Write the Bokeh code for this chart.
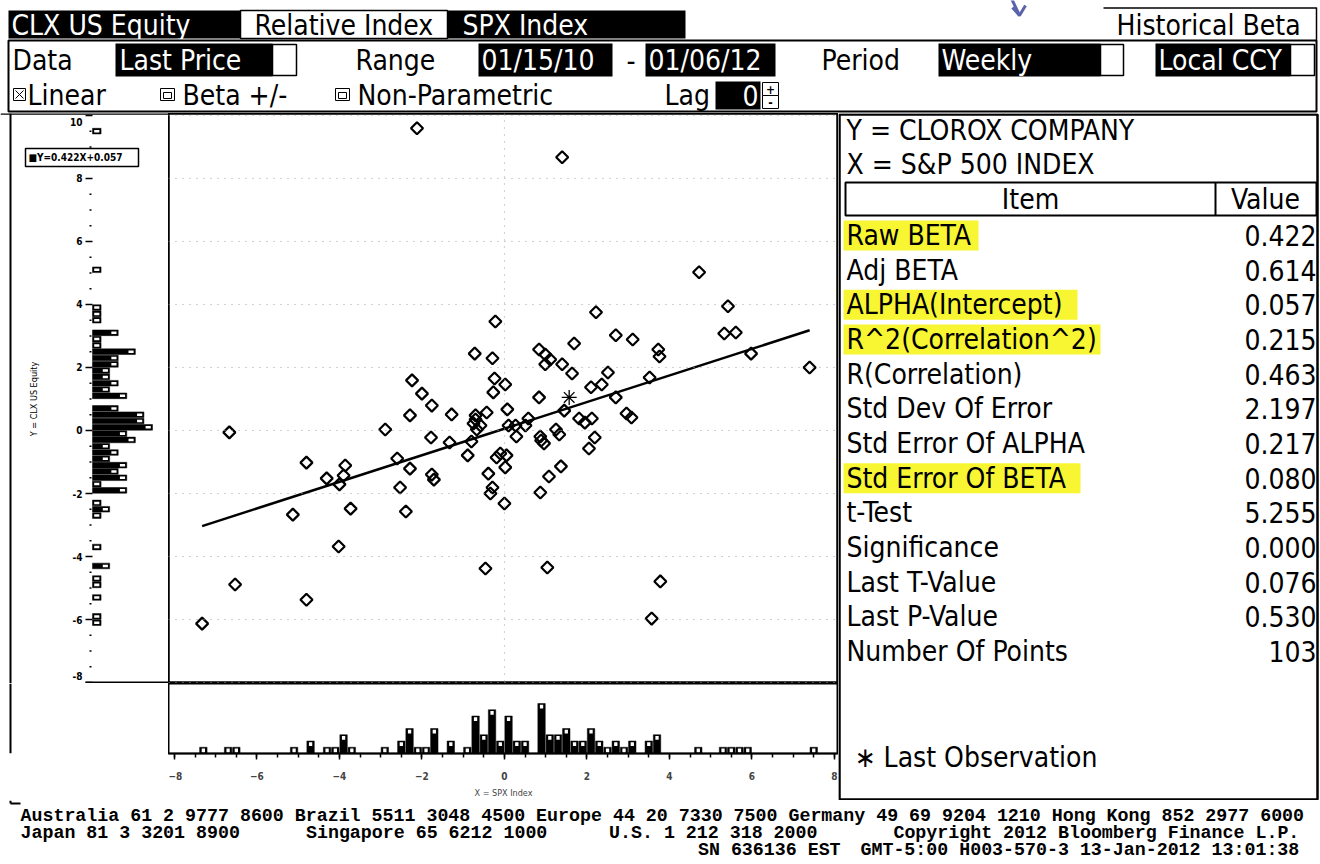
import numpy as np
from bokeh.plotting import figure
from bokeh.layouts import row, column
from bokeh.models import Range1d, FixedTicker, Span
from bokeh.core.properties import value
from bokeh.embed import file_html
from bokeh.resources import INLINE

# ---------------- data ----------------
x_spx = [-2.12, 1.40, 4.72, 5.42, 5.33, 5.61, 5.98, 7.40, 2.22, 2.70,
         3.11, 3.73, 3.76, -0.22, -0.72, -0.29, -0.24, -0.27, 0.02, -2.24,
         -2.00, -1.76, 0.84, 0.99, 1.11, 0.99, 1.40, 1.69, 1.64, 2.51,
         2.10, 2.36, 3.52, 2.70, 0.84, 0.07, 1.45, 2.96, 3.08, 1.81,
         1.95, 2.12, 0.10, 0.27, 0.51, 0.58, 0.29, 0.87, 0.89, 0.96,
         1.25, 1.33, 2.19, 2.05, -2.29, -1.28, -0.70, -0.43, -0.75, -0.58,
         -0.67, -0.70, -6.67, -2.89, -1.78, -1.33, -0.80, -0.89, -0.19, -0.10,
         0.05, 0.02, -0.39, -0.29, -0.34, 0.00, -2.60, -4.80, -3.86, -2.29,
         -4.31, -3.90, -4.00, -1.76, -1.71, -2.53, -5.13, -3.73, -2.39, -4.02,
         -0.46, -6.53, -4.80, -7.33, 1.08, 1.37, 0.87, 1.04, 3.78, 3.57]
y_clx = [9.59, 8.67, 5.02, 3.94, 3.08, 3.11, 2.44, 2.00, 3.75, 3.02,
         2.89, 2.57, 2.35, 3.46, 2.44, 2.29, 1.65, 1.21, 1.46, 1.59,
         1.17, 0.79, 2.57, 2.41, 2.25, 2.10, 2.10, 2.76, 1.81, 1.84,
         1.37, 1.46, 1.68, 1.05, 1.05, 0.67, 0.63, 0.54, 0.41, 0.38,
         0.25, 0.38, 0.16, 0.16, 0.16, 0.38, -0.19, -0.19, -0.32, -0.41,
         0.03, -0.13, -0.22, -0.57, 0.48, 0.51, 0.48, 0.57, 0.22, 0.16,
         0.03, 0.35, -0.06, 0.03, -0.22, -0.38, -0.35, -0.79, -0.86, -0.73,
         -0.79, -1.17, -1.37, -1.81, -2.00, -2.32, -0.89, -1.02, -1.11, -1.21,
         -1.52, -1.43, -1.71, -1.40, -1.56, -1.81, -2.67, -2.48, -2.57, -3.68,
         -4.38, -4.89, -5.37, -6.13, -1.46, -1.14, -1.97, -4.35, -4.79, -5.97]
last_x = [1.57]
last_y = [1.05]
raw_beta = 0.422
alpha = 0.057

x_ticks = [-8, -6, -4, -2, 0, 2, 4, 6, 8]
y_ticks = [-8, -6, -4, -2, 0, 2, 4, 6, 8, 10]

stat_items = ["Raw BETA", "Adj BETA", "ALPHA(Intercept)", "R^2(Correlation^2)",
              "R(Correlation)", "Std Dev Of Error", "Std Error Of ALPHA",
              "Std Error Of BETA", "t-Test", "Significance", "Last T-Value",
              "Last P-Value", "Number Of Points"]
stat_values = ["0.422", "0.614", "0.057", "0.215", "0.463", "2.197", "0.217",
               "0.080", "5.255", "0.000", "0.076", "0.530", "103"]
highlight_items = ["Raw BETA", "ALPHA(Intercept)", "R^2(Correlation^2)", "Std Error Of BETA"]
highlight_widths = [135, 234, 257, 237]

# ---------------- helpers ----------------
FONT = "DejaVu Sans Condensed"
MONO = "Liberation Mono"
YELLOW = "#f8f633"
FS = "28px"


def panel(w, h, xr, yr, **kw):
    p = figure(width=w, height=h, x_range=Range1d(*xr), y_range=Range1d(*yr),
               output_backend="svg", toolbar_location=None, min_border=0,
               x_axis_location=None, y_axis_location=None, **kw)
    for g in p.grid:
        g.visible = False
    p.outline_line_color = None
    return p


def txt(p, x, y, t, size=FS, color="black", align="left", font=FONT, style="normal", angle=0):
    p.text(x=[x], y=[y], text=[t], text_font=value(font), text_font_size=size,
           text_color=color, text_align=align, text_baseline="middle",
           text_font_style=style, angle=angle)


def box(p, l, r, t, b, fill, line=None, lw=1.0):
    p.quad(left=[l], right=[r], top=[t], bottom=[b], fill_color=fill,
           line_color=line, line_width=lw)


# ---------------- header (page pixel coords) ----------------
hdr = panel(1320, 113, (0, 1320), (113, 0))
box(hdr, 8, 240, 10, 38, "black")
box(hdr, 240, 447, 10, 38, "white", "black", 1.5)
box(hdr, 447, 685, 10, 38, "black")
txt(hdr, 11, 25, "CLX US Equity", color="white")
txt(hdr, 254, 25, "Relative Index")
txt(hdr, 462, 25, "SPX Index", color="white")
hdr.line([1103, 1316], [7.5, 7.5], line_color="black", line_width=1.5)
hdr.line([1316, 1316], [7, 40], line_color="black", line_width=1.5)
txt(hdr, 1116, 25, "Historical Beta")
hdr.line([1011, 1019], [-2, 15], line_color="#5b63ad", line_width=3)
hdr.line([1012, 1019, 1025], [7, 15, 5], line_color="#5b63ad", line_width=3)

box(hdr, 8, 1316, 40, 111, None, "black", 2)
txt(hdr, 12, 60, "Data")
box(hdr, 115, 272, 43, 76, "black")
txt(hdr, 119, 60, "Last Price", color="white")
box(hdr, 272, 296, 44, 75, "white", "black", 1.5)
txt(hdr, 355, 60, "Range")
box(hdr, 478, 612, 43, 76, "black")
txt(hdr, 481, 60, "01/15/10", color="white")
txt(hdr, 626, 60, "-")
box(hdr, 645, 775, 43, 76, "black")
txt(hdr, 648, 60, "01/06/12", color="white")
txt(hdr, 821, 60, "Period")
box(hdr, 938, 1100, 43, 76, "black")
txt(hdr, 941, 60, "Weekly", color="white")
box(hdr, 1100, 1123, 44, 75, "white", "black", 1.5)
box(hdr, 1155, 1290, 43, 76, "black")
txt(hdr, 1158, 60, "Local CCY", color="white")
box(hdr, 1290, 1314, 44, 75, "white", "black", 1.5)

box(hdr, 13, 25, 88, 100, "white", "black", 1)
hdr.multi_line([[15, 23], [15, 23]], [[90, 98], [98, 90]], line_color="black", line_width=1)
txt(hdr, 27, 95, "Linear")
for lx in (160, 335):
    box(hdr, lx, lx + 14, 88, 100, "white", "black", 1)
    box(hdr, lx + 3, lx + 11, 92, 98, "white", "black", 1)
txt(hdr, 182, 95, "Beta +/-")
txt(hdr, 357, 95, "Non-Parametric")
txt(hdr, 664, 95, "Lag")
box(hdr, 715, 760, 81, 109, "black")
txt(hdr, 758, 95, "0", color="white", align="right")
box(hdr, 762, 778, 82, 95, "white", "black", 1)
box(hdr, 762, 778, 95, 108, "white", "black", 1)
txt(hdr, 770, 88.5, "+", size="12px", align="center", style="bold")
txt(hdr, 770, 101.5, "-", size="12px", align="center", style="bold")

# ---------------- shared ranges & histograms ----------------
YR = Range1d(-8.03, 10.06)
XR = Range1d(-8.145, 8.1)
bins = np.arange(-8.6, 10.41, 0.2)
all_x = np.array(x_spx + last_x)
all_y = np.array(y_clx + last_y)
cx, ex = np.histogram(all_x, bins=bins)
cy, ey = np.histogram(all_y, bins=bins)

# ---------------- scatter ----------------
scat = figure(width=670, height=570, x_range=XR, y_range=YR, output_backend="svg",
              toolbar_location=None, min_border=0, x_axis_location=None,
              y_axis_location=None)
for g in scat.grid:
    g.visible = False
scat.outline_line_color = "black"
scat.outline_line_width = 2.5
for t in y_ticks:
    scat.add_layout(Span(location=t, dimension="width", line_color="#a0a0a0",
                         line_dash="1 6", line_width=1))
scat.add_layout(Span(location=0, dimension="height", line_color="#a0a0a0",
                     line_dash="1 6", line_width=1))
lx = np.array([min(x_spx), max(x_spx)])
scat.line(lx, raw_beta * lx + alpha, line_color="black", line_width=2.5)
scat.scatter(x_spx, y_clx, marker="square", angle=np.pi / 4, size=8.5, fill_color=None,
             line_color="black", line_width=2.2)
scat.scatter(last_x, last_y, marker="asterisk", size=15, line_color="black", line_width=1.3)

# ---------------- left histogram (y) with its axis ----------------
pxc = 60.0 / cy.max()          # pixels per count
def cpx(px):                     # panel pixel -> count units
    return (px - 92) / pxc

lh = panel(168, 570, (cpx(0), cpx(168)), (0, 1))
lh.y_range = YR
lh.line([cpx(10), cpx(10)], [-8.03, 10.06], line_color="black", line_width=2)
lh.line([cpx(0), cpx(168)], [10.05, 10.05], line_color="black", line_width=2)
lh.line([cpx(85), cpx(168)], [-8.0, -8.0], line_color="black", line_width=2)
minor = [v for v in np.arange(-8, 10.01, 0.5) if v not in y_ticks]
lh.segment(x0=[cpx(89)] * len(minor), y0=minor, x1=[cpx(91)] * len(minor), y1=minor,
           line_color="black", line_width=1.5)
lh.segment(x0=[cpx(85)] * len(y_ticks), y0=y_ticks, x1=[cpx(92)] * len(y_ticks), y1=y_ticks,
           line_color="black", line_width=1.5)
label_y = [min(max(t, -7.8), 9.8) for t in y_ticks]
lh.text(x=[cpx(82)] * len(y_ticks), y=label_y, text=[str(t) for t in y_ticks],
        text_font=value(FONT), text_font_size="10px", text_font_style="bold",
        text_align="right", text_baseline="middle")
txt(lh, cpx(33), 1.0, "Y = CLX US Equity", size="9px", align="center", angle=np.pi / 2)
m = cy > 0
lh.quad(left=0, right=cy[m], bottom=ey[:-1][m] + 0.01, top=ey[1:][m] - 0.01,
        fill_color="black", line_color="black", line_width=0.5)
lh.quad(left=cy[m] - 0.8, right=cy[m] - 0.2, bottom=ey[:-1][m] + 0.06,
        top=ey[1:][m] - 0.06, fill_color="white", line_color=None)
box(lh, cpx(25), cpx(138), (430 - 148) / 31.5, (430 - 166) / 31.5, "white", "black", 1.5)
txt(lh, cpx(28), (430 - 157) / 31.5, "\u25a0Y=%.3fX+%.3f" % (raw_beta, alpha),
    size="10px", style="bold")

# ---------------- bottom histogram (x) ----------------
ymax_b = cx.max() * 1.4
bh = figure(width=670, height=117, x_range=XR, y_range=Range1d(0, ymax_b),
            output_backend="svg", toolbar_location=None, min_border=0,
            min_border_bottom=43, x_axis_location="below", y_axis_location=None)
for g in bh.grid:
    g.visible = False
bh.outline_line_color = "black"
bh.outline_line_width = 2
xa = bh.xaxis[0]
xa.ticker = FixedTicker(ticks=x_ticks, minor_ticks=list(np.arange(-8, 8.01, 0.5)))
xa.axis_line_color = "black"
xa.axis_line_width = 1.5
xa.major_tick_out = 6
xa.major_tick_in = 0
xa.minor_tick_out = 4
xa.minor_tick_in = 0
xa.major_tick_line_width = 1.5
xa.minor_tick_line_width = 1.5
xa.major_label_standoff = 12
xa.major_label_text_font = FONT
xa.major_label_text_font_size = "10px"
xa.major_label_text_font_style = "bold"
xa.axis_label = "X = SPX Index"
xa.axis_label_text_font = FONT
xa.axis_label_text_font_size = "9px"
xa.axis_label_text_font_style = "normal"
xa.axis_label_standoff = 5
m = cx > 0
bh.quad(bottom=0, top=cx[m], left=ex[:-1][m] + 0.01, right=ex[1:][m] - 0.01,
        fill_color="black", line_color="black", line_width=0.5)
bh.quad(bottom=cx[m] - 0.8, top=cx[m] - 0.2, left=ex[:-1][m] + 0.06,
        right=ex[1:][m] - 0.06, fill_color="white", line_color=None)

blank = panel(168, 117, (0, 168), (117, 0))
blank.line([10, 10], [0, 117], line_color="black", line_width=2)

# ---------------- statistics table ----------------
tbl = panel(482, 687, (0, 482), (687, 0))
box(tbl, 1, 479, 1, 686, None, "black", 2.5)
txt(tbl, 8, 17, "Y = CLOROX COMPANY")
txt(tbl, 8, 51, "X = S&P 500 INDEX")
box(tbl, 7, 478, 69, 102, None, "black", 2)
tbl.line([377, 377], [69, 102], line_color="black", line_width=2)
txt(tbl, 192, 86, "Item", align="center")
txt(tbl, 427, 86, "Value", align="center")
row_y = [122 + 34.67 * i for i in range(len(stat_items))]
for item, w in zip(highlight_items, highlight_widths):
    yy = row_y[stat_items.index(item)]
    box(tbl, 5, 5 + w, yy - 15, yy + 15, YELLOW)
tbl.text(x=[8] * len(stat_items), y=row_y, text=stat_items, text_font=value(FONT),
         text_font_size=FS, text_baseline="middle", text_align="left")
tbl.text(x=[478] * len(stat_values), y=row_y, text=stat_values, text_font=value(FONT),
         text_font_size=FS, text_baseline="middle", text_align="right")
txt(tbl, 16, 644, "\u2217 Last Observation")

# ---------------- footer ----------------
ftr = panel(1320, 64, (0, 1320), (64, 0))
ftr.line([10, 10], [0, 3], line_color="black", line_width=2)
ftr.line([10, 20], [3, 3], line_color="black", line_width=2)
CW = 10.98
footer_lines = [
    [("Australia 61 2 9777 8600 Brazil 5511 3048 4500 Europe 44 20 7330 7500 Germany 49 69 9204 1210 Hong Kong 852 2977 6000", 0)],
    [("Japan 81 3 3201 8900", 0), ("Singapore 65 6212 1000", 26),
     ("U.S. 1 212 318 2000", 53.6), ("Copyright 2012 Bloomberg Finance L.P.", 79.5)],
    [("SN 636136 EST", 61.7), ("GMT-5:00 H003-570-3 13-Jan-2012 13:01:38", 76.5)],
]
for i, segs in enumerate(footer_lines):
    for s, col in segs:
        txt(ftr, 20 + col * CW, 15 + 17 * i, s, size="18.3px", font=MONO, style="bold")

layout = column(hdr,
                row(column(row(lh, scat), row(blank, bh)), tbl),
                ftr)

open("out.html", "w").write(file_html(layout, INLINE))
